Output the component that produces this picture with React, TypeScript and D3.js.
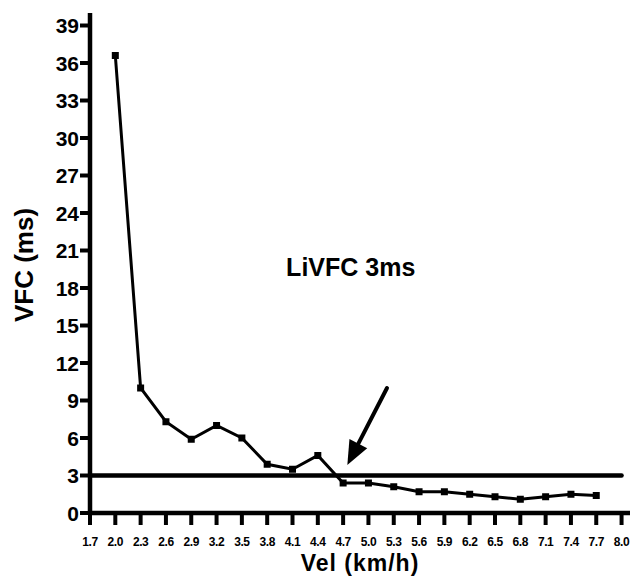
import React from "react";
import * as d3 from "d3";

const velocities = [2.0, 2.3, 2.6, 2.9, 3.2, 3.5, 3.8, 4.1, 4.4, 4.7, 5.0, 5.3, 5.6, 5.9, 6.2, 6.5, 6.8, 7.1, 7.4, 7.7];
const vfcValues = [36.6, 10.0, 7.3, 5.9, 7.0, 6.0, 3.9, 3.5, 4.6, 2.4, 2.4, 2.1, 1.7, 1.7, 1.5, 1.3, 1.1, 1.3, 1.5, 1.4];
const xTicks = [1.7, 2.0, 2.3, 2.6, 2.9, 3.2, 3.5, 3.8, 4.1, 4.4, 4.7, 5.0, 5.3, 5.6, 5.9, 6.2, 6.5, 6.8, 7.1, 7.4, 7.7, 8.0];
const yTicks = [0, 3, 6, 9, 12, 15, 18, 21, 24, 27, 30, 33, 36, 39];
const thresholdValue = 3;
const thresholdRange = [1.7, 8.0];
const arrowStart = [5.22, 10.0];
const arrowTip = [4.75, 3.85];
const annotationPos = [4.79, 19.0];
const annotationText = "LiVFC 3ms";

const W = 631;
const H = 577;
const FONT = "'Liberation Sans', Arial, sans-serif";

export default function App() {
  const x = d3.scaleLinear().domain([1.7, 8.1]).range([90, 630]);
  const y = d3.scaleLinear().domain([0, 40]).range([513, 13]);
  const line = d3
    .line<number>()
    .x((_, i) => x(velocities[i]))
    .y((d) => y(d));

  const x0 = x(arrowStart[0]);
  const y0 = y(arrowStart[1]);
  const x1 = x(arrowTip[0]);
  const y1 = y(arrowTip[1]);
  const ang = Math.atan2(y1 - y0, x1 - x0);
  const headLen = 24;
  const headHalf = 10;
  const bx = x1 - headLen * Math.cos(ang);
  const by = y1 - headLen * Math.sin(ang);
  const px = -Math.sin(ang);
  const py = Math.cos(ang);
  const head = `M${x1},${y1}L${bx + headHalf * px},${by + headHalf * py}L${bx - headHalf * px},${by - headHalf * py}Z`;

  return (
    <svg
      width={W}
      height={H}
      style={{ position: "absolute", left: 0, top: 0, background: "#fff" }}
      fontFamily={FONT}
      fontWeight="bold"
    >
      {/* threshold line */}
      <line
        x1={x(thresholdRange[0])}
        x2={x(thresholdRange[1])}
        y1={y(thresholdValue)}
        y2={y(thresholdValue)}
        stroke="#000"
        strokeWidth={4.5}
        strokeLinecap="round"
      />
      {/* data line */}
      <path d={line(vfcValues) || ""} fill="none" stroke="#000" strokeWidth={3} />
      {vfcValues.map((v, i) => (
        <rect key={i} x={x(velocities[i]) - 3.5} y={y(v) - 3.5} width={7} height={7} fill="#000" />
      ))}
      {/* axes */}
      <line x1={x(1.7)} x2={x(1.7)} y1={y(40)} y2={y(0) + 2} stroke="#000" strokeWidth={4.5} />
      <line x1={x(1.7) - 2} x2={x(8.1)} y1={y(0)} y2={y(0)} stroke="#000" strokeWidth={4.5} />
      {yTicks.map((t) => (
        <g key={t}>
          <line x1={x(1.7) - 10} x2={x(1.7)} y1={y(t)} y2={y(t)} stroke="#000" strokeWidth={4} />
          <text x={x(1.7) - 11} y={y(t)} dy="0.36em" textAnchor="end" fontSize={21}>
            {t}
          </text>
        </g>
      ))}
      {xTicks.map((t) => (
        <g key={t}>
          <line x1={x(t)} x2={x(t)} y1={y(0)} y2={y(0) + 12} stroke="#000" strokeWidth={4} />
          <text x={x(t)} y={546} textAnchor="middle" fontSize={12} letterSpacing={-0.4}>
            {t.toFixed(1)}
          </text>
        </g>
      ))}
      {/* axis titles */}
      <text x={360} y={571} textAnchor="middle" fontSize={23} letterSpacing={1}>
        Vel (km/h)
      </text>
      <text transform={`translate(33,265) rotate(-90)`} textAnchor="middle" fontSize={26}>
        VFC (ms)
      </text>
      {/* annotation */}
      <text x={x(annotationPos[0])} y={y(annotationPos[1])} textAnchor="middle" fontSize={25}>
        {annotationText}
      </text>
      <line x1={x0} y1={y0} x2={bx} y2={by} stroke="#000" strokeWidth={4} strokeLinecap="round" />
      <path d={head} fill="#000" />
    </svg>
  );
}
